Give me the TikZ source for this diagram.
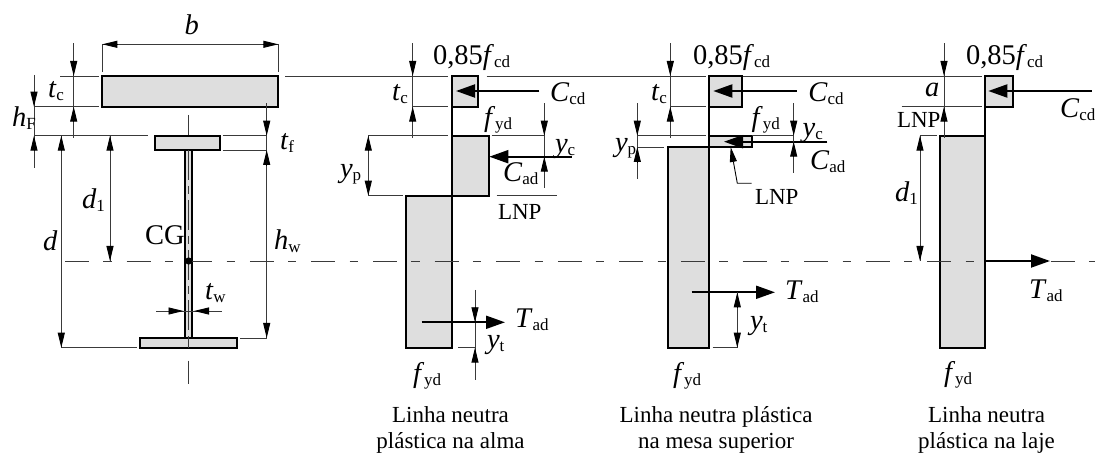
\documentclass[tikz,border=0pt]{standalone}
\usepackage{fontspec}
\setmainfont{Liberation Serif}
\usetikzlibrary{arrows.meta}
\definecolor{fillgray}{HTML}{DEDEDE}
\definecolor{thingray}{HTML}{3A3A3A}
\newcommand{\symb}[2]{\textit{#1}\raisebox{-3bp}{\fontsize{17bp}{17bp}\selectfont #2}}
\newcommand{\tipD}[2]{\draw[dimtip] (#1,#2-15) -- (#1,#2);}
\newcommand{\tipU}[2]{\draw[dimtip] (#1,#2+15) -- (#1,#2);}
\newcommand{\lab}[4]{\node[symlabel] (#1) at (#2,#3) {#4};}
\tikzset{
  thinline/.style={draw=thingray,line width=0.9bp},
  dimtip/.style={draw=black,line width=0.9bp,-{Triangle[length=15bp,width=7bp]}},
  force/.style={draw=black,line width=2bp,-{Triangle[length=19bp,width=13bp]}},
  block/.style={draw=black,fill=fillgray,line width=1.9bp,line join=miter},
  axisline/.style={draw=black,line width=1.9bp},
  symlabel/.style={anchor=base west,inner sep=0pt,outer sep=0pt,font=\fontsize{28.5bp}{28.5bp}\selectfont},
  lnplabel/.style={anchor=base west,inner sep=0pt,outer sep=0pt,font=\fontsize{23bp}{23bp}\selectfont},
  caption/.style={anchor=center,align=center,inner sep=0pt,font=\fontsize{23bp}{26.4bp}\selectfont},
}
\begin{document}
\begin{tikzpicture}[x=1bp,y=-1bp]
\useasboundingbox (0,0) rectangle (1095,453);
% long horizontal references
\draw[thinline] (60,76) -- (99.3,76);
\draw[thinline] (285,76) -- (448,76);
\draw[thinline] (486.7,76) -- (706,76);
\draw[thinline] (741.7,76) -- (981.7,76);
% ===== section
\draw[thinline] (188.7,115) -- (188.7,135);
\draw[block] (102.3,76) rectangle (278.3,106.7);
\draw[block] (154.7,135.7) rectangle (219.7,150);
\draw[block] (185.3,150) rectangle (192.3,338);
\draw[block] (140,338) rectangle (237.3,348);
\draw[thinline,dash pattern=on 30bp off 6bp on 8bp off 6bp] (188.7,150) -- (188.7,338);
\draw[thinline] (188.7,338) -- (188.7,348);
\draw[thinline] (188.7,360.7) -- (188.7,383.7);
% b
\draw[thinline] (102.3,44) -- (102.3,72);
\draw[thinline] (278.3,44) -- (278.3,72);
\draw[thinline] (102.3,44.3) -- (278.3,44.3);
\draw[dimtip] (118,44.3) -- (102.3,44.3);
\draw[dimtip] (262.6,44.3) -- (278.3,44.3);
% section horizontal lines
\draw[thinline] (34.7,106.7) -- (99.3,106.7);
\draw[thinline] (34.7,135.7) -- (148.3,135.7);
\draw[thinline] (222.7,135.7) -- (266.7,135.7);
\draw[thinline] (222.7,150) -- (267,150);
\draw[thinline] (61.3,347.7) -- (136.7,347.7);
\draw[thinline] (240,338) -- (266.7,338);
% vertical dims
\draw[thinline] (73.7,43.3) -- (73.7,138);
\tipD{73.7}{76} \tipU{73.7}{106.7}
\draw[thinline] (34,75) -- (34,167.7);
\tipD{34}{106.7} \tipU{34}{135.7}
\draw[thinline] (61.3,135.7) -- (61.3,347.7);
\tipU{61.3}{135.7} \tipD{61.3}{347.7}
\draw[thinline] (110,135.7) -- (110,261);
\tipU{110}{135.7} \tipD{110}{261}
\draw[thinline] (266.7,103.3) -- (266.7,338);
\tipD{266.7}{135.7} \tipU{266.7}{150} \tipD{266.7}{338}
% tw
\draw[thinline] (156,311) -- (221.7,311);
\draw[dimtip] (170,311) -- (183.5,311);
\draw[dimtip] (207.5,311) -- (194,311);
% section labels
\node[symlabel,anchor=base] (lb) at (191.7,35) {\textit{b}};
\lab{ltc0}{48}{98}{\symb{t}{c}}
\lab{lhf}{12}{127}{\symb{h}{F}}
\lab{ltf}{280}{150}{\symb{t}{f}}
\lab{ldone}{82}{209}{\symb{d}{1}}
\lab{lcg}{145}{245}{CG}
\lab{ld}{43}{251}{\textit{d}}
\lab{lhw}{274}{250}{\symb{h}{w}}
\lab{ltw}{205}{300}{\symb{t}{w}}
% ===== panel 1
\draw[block] (452,76) rectangle (477.7,106.7);
\draw[block] (452,135.7) rectangle (488.7,195.7);
\draw[block] (406.3,195.7) rectangle (452,347.7);
\draw[axisline] (452,76) -- (452,347.7);
\draw[thinline] (412.7,43.3) -- (412.7,138);
\tipD{412.7}{76} \tipU{412.7}{106.7}
\draw[thinline] (413,106.7) -- (448,106.7);
\draw[thinline] (368,135.7) -- (448,135.7);
\draw[thinline] (491.7,135.7) -- (544,135.7);
\draw[thinline] (368.3,135.7) -- (368.3,195.7);
\tipU{368.3}{135.7} \tipD{368.3}{195.7}
\draw[thinline] (368,195.7) -- (402.7,195.7);
\draw[force] (539.3,91) -- (456,91);
\draw[thinline] (544.3,103.3) -- (544.3,188.3);
\tipD{544.3}{135.7} \tipU{544.3}{156.7}
\draw[force] (571.7,156.7) -- (489.3,156.7);
\draw[thinline] (496.7,195.7) -- (557.3,195.7);
\draw[thinline] (475,290) -- (475,380);
\tipD{475}{322.3} \tipU{475}{347.7}
\draw[thinline] (458,347.7) -- (475,347.7);
\draw[force] (421.7,322.3) -- (505,322.3);
\lab{p1top}{433}{65}{0,85\symb{f}{cd}}
\lab{p1tc}{392}{101}{\symb{t}{c}}
\lab{p1yp}{340}{178}{\symb{y}{p}}
\lab{p1ccd}{550}{101.7}{\symb{C}{cd}}
\lab{p1fyd}{484}{126.7}{\symb{f}{yd}}
\lab{p1yc}{555}{153}{\symb{y}{c}}
\lab{p1cad}{503}{181.7}{\symb{C}{ad}}
\node[lnplabel] (p1lnp) at (498,220) {LNP};
\lab{p1tad}{515}{327.7}{\symb{T}{ad}}
\lab{p1yt}{487}{349}{\symb{y}{t}}
\lab{p1fb}{413}{382.7}{\symb{f}{yd}}
\node[caption] (cap1) at (450.5,429.7) {Linha neutra\\plástica na alma};
% ===== panel 2
\draw[block] (709.3,76) rectangle (741.7,106.7);
\draw[block] (709.3,135.7) rectangle (751.7,147);
\draw[block] (668.3,147) rectangle (709.3,347.7);
\draw[axisline] (709.3,76) -- (709.3,347.7);
\draw[thinline] (670.3,43.3) -- (670.3,138);
\tipD{670.3}{76} \tipU{670.3}{106.7}
\draw[thinline] (670,106.7) -- (706,106.7);
\draw[thinline] (637.3,135.7) -- (706,135.7);
\draw[thinline] (751.7,135.7) -- (793.3,135.7);
\draw[thinline] (637.3,147) -- (664,147);
\draw[thinline] (637.3,103.3) -- (637.3,179.3);
\tipD{637.3}{135.7} \tipU{637.3}{147}
\draw[force] (796.7,91) -- (713.3,91);
\draw[force] (827.3,141.7) -- (724,141.7);
\draw[thinline] (793.7,103.3) -- (793.7,173.3);
\tipD{793.7}{135.7} \tipU{793.7}{141.7}
\draw[dimtip] (751.7,183.3) -- (737.3,183.3) -- (730.7,147);
\draw[force] (691.7,292.3) -- (775,292.3);
\draw[thinline] (737.3,292.3) -- (737.3,347.7);
\tipU{737.3}{292.3} \tipD{737.3}{347.7}
\draw[thinline] (712.7,347.7) -- (737.3,347.7);
\lab{p2top}{693}{65}{0,85\symb{f}{cd}}
\lab{p2tc}{651}{101}{\symb{t}{c}}
\lab{p2yp}{615}{151.7}{\symb{y}{p}}
\lab{p2ccd}{808.3}{101.7}{\symb{C}{cd}}
\lab{p2fyd}{751.7}{126.7}{\symb{f}{yd}}
\lab{p2yc}{802.7}{137}{\symb{y}{c}}
\lab{p2cad}{810}{170}{\symb{C}{ad}}
\node[lnplabel] (p2lnp) at (755,205) {LNP};
\lab{p2tad}{785}{300}{\symb{T}{ad}}
\lab{p2yt}{750}{330}{\symb{y}{t}}
\lab{p2fb}{673}{382.7}{\symb{f}{yd}}
\node[caption] (cap2) at (716,429.7) {Linha neutra plástica\\na mesa superior};
% ===== panel 3
\draw[block] (985,76) rectangle (1013.3,106.7);
\draw[block] (940.3,135.7) rectangle (985,347.7);
\draw[axisline] (985,76) -- (985,135.7);
\draw[thinline] (944,43.3) -- (944,138);
\tipD{944}{76} \tipU{944}{106.7}
\draw[thinline] (901.7,106.7) -- (981.7,106.7);
\draw[thinline] (920,135.7) -- (936.7,135.7);
\draw[thinline] (920,135.7) -- (920,261);
\tipU{920}{135.7} \tipD{920}{261}
\lab{p3top}{966}{65}{0,85\symb{f}{cd}}
\lab{p3a}{925}{96.7}{\textit{a}}
\node[lnplabel] (p3lnp) at (897,128) {LNP};
\lab{p3done}{895}{201.7}{\symb{d}{1}}
\lab{p3ccd}{1060}{117.3}{\symb{C}{cd}}
\lab{p3tad}{1029}{299}{\symb{T}{ad}}
\lab{p3fb}{944}{381.7}{\symb{f}{yd}}
\node[caption] (cap3) at (986.5,429.7) {Linha neutra\\plástica na laje};
% centre line over the blocks
\draw[thinline,dash pattern=on 24bp off 14.3bp on 8.3bp off 15bp] (65,261) -- (1095,261);
\fill[black] (188.7,261) circle (3.6bp);
\draw[force] (1091.7,91) -- (988.3,91);
\draw[force] (985,261) -- (1050,261);
\end{tikzpicture}
\end{document}
